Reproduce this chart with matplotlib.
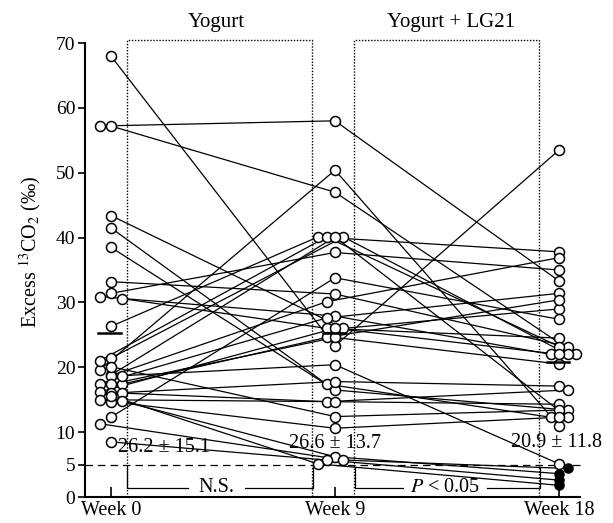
import matplotlib
matplotlib.use("Agg")
import matplotlib.pyplot as plt
import numpy as np

# Excess 13CO2 (per mil) per subject at week 0, 9, 18
week0 = [68.0, 57.2, 57.2, 19.6, 43.4, 41.5, 38.5, 33.2, 31.4, 30.9, 30.6,
         26.3, 21.4, 21.0, 18.8, 12.3, 18.7, 17.5, 17.4, 17.4,
         16.2, 18.7, 16.1, 16.1, 15.0, 20.1, 14.7, 14.8, 11.3, 8.5, 15.6]
week9 = [23.3, 58.0, 47.0, 50.4, 26.0, 17.4, 16.5, 31.3, 37.7, 27.9, 26.0,
         40.1, 40.1, 40.1, 40.1, 33.8, 30.1, 27.6, 24.6, 24.6,
         26.0, 20.4, 17.8, 14.7, 14.7, 12.4, 10.6, 6.2, 5.7, 5.7, 5.1]
week18 = [53.5, 33.3, 22.0, 11.0, 29.0, 12.3, 13.4, 23.2, 35.0, 22.0, 24.5,
          37.8, 22.0, 23.2, 12.3, 27.4, 36.9, 31.4, 30.4, 20.5,
          22.0, 5.1, 17.1, 16.5, 14.3, 13.4, 12.3, 3.6, 4.4, 2.6, 1.8]

weeks = [0, 9, 18]
week_labels = ["Week 0", "Week 9", "Week 18"]
bar_levels = [25.3, 25.3, 20.8]
summary_text = ["26.2 \u00b1 15.1", "26.6 \u00b1 13.7", "20.9 \u00b1 11.8"]
threshold = 5

plt.rcParams.update({
    "font.family": ["Liberation Serif", "DejaVu Serif"],
    "mathtext.fontset": "stix",
    "font.size": 13,
})


def dodge(values, step, order, gap):
    # push overlapping circles sideways into a few columns
    placed = []
    offs = np.zeros(len(values))
    for i in np.argsort(values, kind="stable")[::-1]:
        hits = [sum(c == k and abs(v - values[i]) < gap for c, v in placed)
                for k in order]
        col = order[int(np.argmin(hits))]
        placed.append((col, values[i]))
        offs[i] = col * step
    return offs


data = np.array([week0, week9, week18])
layout = [(0.45, [0, -1, 1], 1.2),
          (0.34, [0, -1, 1, -2], 1.2),
          (0.34, [0, 1, -1, 2], 0.7)]
xs = np.array([w + dodge(np.array(vals), s, o, g)
               for w, vals, (s, o, g) in zip(weeks, data, layout)])

fig = plt.figure(figsize=(6.13, 5.23), dpi=100)
ax = fig.add_axes([85 / 613, 26 / 523, 495 / 613, 454 / 523])

for j in range(data.shape[1]):
    ax.plot(xs[:, j], data[:, j], color="black", lw=0.9, zorder=2)

for i in range(3):
    v = data[i]
    below = v < threshold
    ax.plot(xs[i][~below], v[~below], "o", ms=7.2, mfc="white", mec="black",
            mew=1.1, zorder=3, clip_on=False)
    ax.plot(xs[i][below], v[below], "o", ms=6.5, mfc="black", mec="black",
            mew=1.1, zorder=3, clip_on=False)
    ax.plot([weeks[i] - 0.5, weeks[i] + 0.4], [bar_levels[i]] * 2,
            color="black", lw=1.8, zorder=4)

ax.axhline(threshold, xmin=0, xmax=1.005, color="black", lw=0.9,
           dashes=(6, 4), clip_on=False)

# dotted boxes for the two periods
for x0, x1 in [(0.64, 8.07), (9.76, 17.19)]:
    ax.plot([x0, x0, x1, x1], [0, 70.5, 70.5, 0], color="black", lw=1.0,
            ls=(0, (1, 1.2)), clip_on=False, zorder=1)

# significance brackets
for x0, x1, xa, xb, label in [(0.65, 8.11, 3.09, 5.38, "N.S."),
                              (9.8, 17.23, 11.73, 15.1, "$P$ < 0.05")]:
    ax.plot([x0, x0, xa], [4.6, 1.4, 1.4], color="black", lw=0.9)
    ax.plot([xb, x1, x1], [1.4, 1.4, 4.6], color="black", lw=0.9)
    ax.text((xa + xb) / 2, 1.4, label, ha="center", va="center", fontsize=14.5)

ax.text(4.25, 73.1, "Yogurt", ha="center", va="center", fontsize=15)
ax.text(13.65, 73.1, "Yogurt + LG21", ha="center", va="center", fontsize=15)

ax.text(0.28, 7.7, summary_text[0], ha="left", va="center", fontsize=14.5)
ax.text(9.0, 8.3, summary_text[1], ha="center", va="center", fontsize=14.5)
ax.text(17.9, 8.4, summary_text[2], ha="center", va="center", fontsize=14.5)

ax.set_xlim(-1.04, 18.84)
ax.set_ylim(0, 70)
ax.set_yticks([0, 5, 10, 20, 30, 40, 50, 60, 70])
ax.set_xticks(weeks)
ax.set_xticklabels(week_labels)
ax.tick_params(axis="y", direction="out", length=5, width=1.2, labelsize=14, pad=2)
ax.tick_params(axis="x", direction="in", length=7, width=1.2, labelsize=14.5, pad=3)
ax.spines["top"].set_visible(False)
ax.spines["right"].set_visible(False)
ax.spines["left"].set_linewidth(1.5)
ax.spines["bottom"].set_linewidth(1.5)

fig.text(0.049, 0.518, "Excess $^{13}$CO$_2$ (\u2030)", rotation=90,
         ha="center", va="center", fontsize=14.5)

fig.savefig("out.png", dpi=100)
